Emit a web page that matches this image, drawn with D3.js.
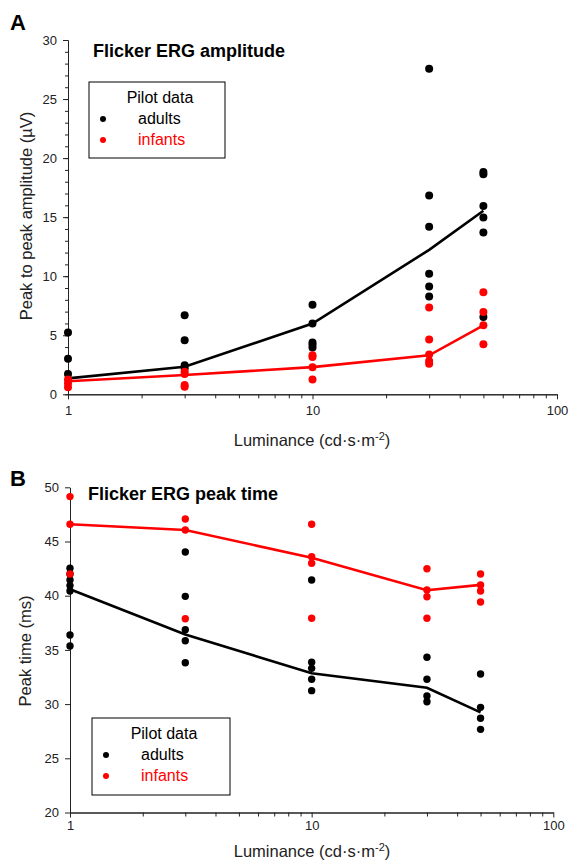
<!DOCTYPE html>
<html>
<head>
<meta charset="utf-8">
<script src="https://cdn.jsdelivr.net/npm/d3@7"></script>
<style>
  body { margin: 0; background: #fff; }
  svg { font-family: "Liberation Sans", Arial, sans-serif; }
  .axis path, .axis line { stroke: #222; }
  .axis text { fill: #222; font-size: 13px; }
</style>
</head>
<body>
<svg id="chart" width="569" height="863"></svg>
<script>
// luminance steps (cd.s.m-2)
var luminance = [1, 3, 10, 30, 50];

// panel A - peak to peak amplitude (uV), one list per luminance step
var ampAdults = [
  [5.23, 3.0, 1.71],
  [6.69, 4.58, 2.47, 2.2],
  [7.59, 5.99, 4.38, 4.2, 3.96],
  [27.57, 16.83, 14.19, 10.2, 9.13, 8.29],
  [18.83, 18.63, 15.94, 14.98, 13.71, 6.55]
];
var ampInfants = [
  [1.26, 0.93, 0.59],
  [1.9, 1.71, 0.78, 0.64],
  [3.3, 3.15, 2.3, 1.26],
  [7.36, 4.64, 3.37, 2.83, 2.58],
  [8.65, 6.97, 5.84, 4.24]
];
var ampAdultsMean = [1.35, 2.33, 5.99, 12.23, 15.54];
var ampInfantsMean = [1.1, 1.63, 2.3, 3.3, 5.84];

// panel B - peak time (ms)
var ptAdults = [
  [42.53, 42.0, 41.45, 40.93, 40.43, 36.37, 35.36],
  [44.03, 39.94, 36.86, 35.85, 33.82],
  [41.45, 33.86, 33.3, 32.29, 31.24],
  [34.32, 32.29, 30.75, 30.22],
  [32.78, 29.7, 28.69, 27.67]
];
var ptInfants = [
  [49.14, 46.59, 42.0],
  [47.08, 46.06, 37.88],
  [46.59, 43.6, 42.99, 37.92],
  [42.49, 40.53, 39.91, 37.92],
  [42.0, 40.99, 40.43, 39.42]
];
var ptAdultsMean = [40.6, 36.43, 32.84, 31.51, 29.24];
var ptInfantsMean = [46.59, 46.06, 43.5, 40.5, 41.0];

// tick labels
var xMajorTicks = [1, 10, 100];
var xMinorTicks = [2, 3, 4, 5, 6, 7, 8, 9, 20, 30, 40, 50, 60, 70, 80, 90];
var ampTicks = [0, 5, 10, 15, 20, 25, 30];
var ampMinorTicks = d3.range(0, 31, 1);
var ptTicks = [20, 25, 30, 35, 40, 45, 50];

var svg = d3.select("#chart");

function flatten(groups) {
  var pts = [];
  groups.forEach(function(vals, i) {
    vals.forEach(function(v) { pts.push({x: luminance[i], y: v}); });
  });
  return pts;
}

function drawPanel(cfg) {
  var xScale = d3.scaleLog().domain([1, 100]).range(cfg.xRange);
  var yScale = d3.scaleLinear().domain(cfg.yDomain).range(cfg.yRange);
  var g = svg.append("g");

  // x axis
  g.append("g")
    .attr("class", "axis")
    .attr("transform", "translate(0," + cfg.yRange[0] + ")")
    .call(d3.axisBottom(xScale).tickValues(xMinorTicks).tickSize(4).tickSizeOuter(0).tickFormat(""));
  g.append("g")
    .attr("class", "axis")
    .attr("transform", "translate(0," + cfg.yRange[0] + ")")
    .call(d3.axisBottom(xScale).tickValues(xMajorTicks).tickSize(5).tickSizeOuter(0)
      .tickPadding(cfg.xPad).tickFormat(d3.format("d")));

  // y axis
  if (cfg.yMinor) {
    g.append("g")
      .attr("class", "axis")
      .attr("transform", "translate(" + cfg.xRange[0] + ",0)")
      .call(d3.axisLeft(yScale).tickValues(cfg.yMinor).tickSize(3).tickSizeOuter(0).tickFormat(""));
  }
  g.append("g")
    .attr("class", "axis")
    .attr("transform", "translate(" + cfg.xRange[0] + ",0)")
    .call(d3.axisLeft(yScale).tickValues(cfg.yTicks).tickSize(5).tickSizeOuter(0).tickPadding(6));

  var line = d3.line()
    .x(function(d, i) { return xScale(luminance[i]); })
    .y(function(d) { return yScale(d); });

  // adults
  g.append("g").selectAll("circle")
    .data(flatten(cfg.adults))
    .enter().append("circle")
    .attr("cx", function(d) { return xScale(d.x); })
    .attr("cy", function(d) { return yScale(d.y); })
    .attr("r", cfg.r)
    .attr("fill", "#000");
  g.append("path")
    .datum(cfg.adultsMean)
    .attr("d", line)
    .attr("fill", "none")
    .attr("stroke", "#000")
    .attr("stroke-width", 2.6);

  // infants
  g.append("g").selectAll("circle")
    .data(flatten(cfg.infants))
    .enter().append("circle")
    .attr("cx", function(d) { return xScale(d.x); })
    .attr("cy", function(d) { return yScale(d.y); })
    .attr("r", cfg.r)
    .attr("fill", "#ff0000");
  g.append("path")
    .datum(cfg.infantsMean)
    .attr("d", line)
    .attr("fill", "none")
    .attr("stroke", "#ff0000")
    .attr("stroke-width", 2.6);

  // panel letter + title
  g.append("text")
    .attr("x", 10).attr("y", cfg.letterY)
    .attr("font-size", 22).attr("font-weight", "bold")
    .text(cfg.letter);
  g.append("text")
    .attr("x", cfg.titleX).attr("y", cfg.titleY)
    .attr("font-size", 18).attr("font-weight", "bold")
    .text(cfg.title);

  // axis labels
  g.append("text")
    .attr("transform", "translate(" + cfg.yLabelX + "," + cfg.yLabelY + ") rotate(-90)")
    .attr("text-anchor", "middle")
    .attr("font-size", 16.5)
    .attr("fill", "#222")
    .text(cfg.yLabel);

  var xl = g.append("text")
    .attr("x", 312).attr("y", cfg.xLabelY)
    .attr("text-anchor", "middle")
    .attr("font-size", 16.5)
    .attr("fill", "#222");
  xl.append("tspan").text("Luminance (cd\u00b7s\u00b7m");
  xl.append("tspan").attr("font-size", 11).attr("dy", -6).text("-2");
  xl.append("tspan").attr("dy", 6).text(")");

  // legend
  var lg = cfg.legend;
  g.append("rect")
    .attr("x", lg.x).attr("y", lg.y)
    .attr("width", lg.w).attr("height", lg.h)
    .attr("fill", "#fff").attr("stroke", "#000").attr("stroke-width", 1);
  g.append("text")
    .attr("x", lg.x + lg.w / 2 + 3).attr("y", lg.y + 21)
    .attr("text-anchor", "middle").attr("font-size", 16)
    .text("Pilot data");
  [["adults", "#000"], ["infants", "#ff0000"]].forEach(function(item, i) {
    g.append("circle")
      .attr("cx", lg.x + 14).attr("cy", lg.y + 37 + i * 21)
      .attr("r", 3).attr("fill", item[1]);
    g.append("text")
      .attr("x", lg.x + 49).attr("y", lg.y + 42 + i * 21)
      .attr("font-size", 16).attr("fill", item[1])
      .text(item[0]);
  });
}

drawPanel({
  letter: "A", letterY: 30,
  title: "Flicker ERG amplitude", titleX: 93, titleY: 57,
  xRange: [68, 557], yDomain: [0, 30], yRange: [394.3, 40],
  yTicks: ampTicks, yMinor: ampMinorTicks, xPad: 6,
  adults: ampAdults, infants: ampInfants,
  adultsMean: ampAdultsMean, infantsMean: ampInfantsMean,
  r: 4,
  yLabel: "Peak to peak amplitude (\u00b5V)", yLabelX: 32, yLabelY: 216,
  xLabelY: 446,
  legend: {x: 89, y: 82, w: 136, h: 76}
});

drawPanel({
  letter: "B", letterY: 486,
  title: "Flicker ERG peak time", titleX: 88, titleY: 500,
  xRange: [70, 553.3], yDomain: [20, 50], yRange: [812.5, 487.3],
  yTicks: ptTicks, yMinor: null, xPad: 3,
  adults: ptAdults, infants: ptInfants,
  adultsMean: ptAdultsMean, infantsMean: ptInfantsMean,
  r: 3.7,
  yLabel: "Peak time (ms)", yLabelX: 31, yLabelY: 651,
  xLabelY: 857,
  legend: {x: 92, y: 718, w: 138, h: 77}
});
</script>
</body>
</html>
